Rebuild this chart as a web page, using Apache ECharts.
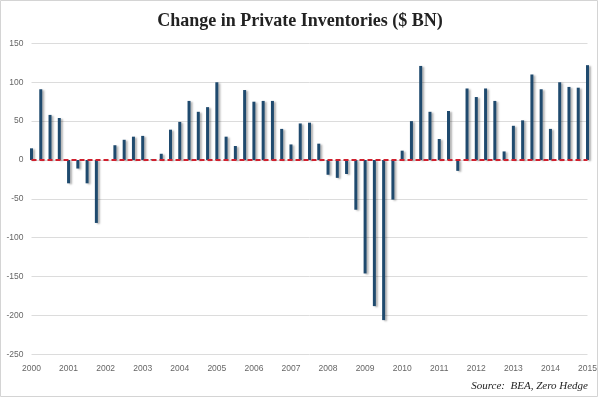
<!DOCTYPE html>
<html>
<head>
<meta charset="utf-8">
<script src="https://cdn.jsdelivr.net/npm/echarts@6/dist/echarts.min.js"></script>
<style>
  html, body { margin: 0; padding: 0; background: #fff; }
  #chart { width: 600px; height: 398px; }
</style>
</head>
<body>
<div id="chart"></div>
<script>
// quarterly change in private inventories, $ BN, 2000Q1 .. 2015Q1
const years = ['2000', '2001', '2002', '2003', '2004', '2005', '2006', '2007',
               '2008', '2009', '2010', '2011', '2012', '2013', '2014', '2015']
const quarters = ['Q1', 'Q2', 'Q3', 'Q4']
const inventories = [
    15, 91, 58, 54,        // 2000
    -30, -11, -30, -81,    // 2001
    1, 19, 26, 30,         // 2002
    31, 1, 8, 39,          // 2003
    49, 76, 62, 68,        // 2004
    100, 30, 18, 90,       // 2005
    75, 76, 76, 40,        // 2006
    20, 47, 48, 21,        // 2007
    -19, -23, -18, -64,    // 2008
    -146, -188, -206, -51, // 2009
    12, 50, 121, 62,       // 2010
    27, 63, -14, 92,       // 2011
    81, 92, 76, 11,        // 2012
    44, 51, 110, 91,       // 2013
    40, 100, 94, 93,       // 2014
    122                    // 2015
]
const yTicks = { min: -250, max: 150, step: 50 }

let categories = []
years.forEach(y => quarters.forEach(q => categories.push(y + q)))
categories = categories.slice(0, inventories.length)

const myChart = echarts.init(document.getElementById('chart'))
const option = {
    animation: false,
    backgroundColor: '#fff',
    title: {
        text: 'Change in Private Inventories ($ BN)',
        left: 'center',
        top: 7,
        textStyle: {
            fontFamily: 'Liberation Serif',
            fontWeight: 'bold',
            fontSize: 18,
            color: '#222'
        }
    },
    grid: {
        left: 31.5,
        right: 12.5,
        top: 43.4,
        bottom: 43.7
    },
    xAxis: {
        type: 'category',
        data: categories,
        boundaryGap: false,
        axisLine: { show: false },
        axisTick: { show: false },
        axisLabel: {
            interval: 3,
            formatter: v => v.slice(0, 4),
            fontFamily: 'Liberation Sans',
            fontSize: 8.5,
            color: '#666',
            margin: 10
        }
    },
    yAxis: {
        type: 'value',
        min: yTicks.min,
        max: yTicks.max,
        interval: yTicks.step,
        axisLine: { show: false },
        axisTick: { show: false },
        axisLabel: {
            fontFamily: 'Liberation Sans',
            fontSize: 8.5,
            color: '#666',
            margin: 8
        },
        splitLine: { lineStyle: { color: '#dcdcdc', width: 1 } }
    },
    series: [
        {
            type: 'bar',
            data: inventories,
            barWidth: 3,
            clip: false,
            itemStyle: {
                color: '#1f4a6e',
                shadowColor: 'rgba(0,0,0,0.3)',
                shadowBlur: 2,
                shadowOffsetX: 2,
                shadowOffsetY: 1
            },
            markLine: {
                silent: true,
                symbol: 'none',
                label: { show: false },
                lineStyle: {
                    color: '#d0202e',
                    type: [5, 3],
                    width: 2
                },
                data: [{ yAxis: 0 }]
            }
        }
    ],
    graphic: [
        {
            type: 'rect',
            shape: { x: 0.5, y: 0.5, width: 597, height: 396 },
            style: { fill: 'none', stroke: '#d4d4d4', lineWidth: 1 },
            silent: true
        },
        {
            type: 'text',
            right: 12,
            top: 381,
            style: {
                text: 'Source:  BEA, Zero Hedge',
                fontFamily: 'Liberation Serif',
                fontStyle: 'italic',
                fontSize: 11,
                fill: '#222'
            }
        }
    ]
}
myChart.setOption(option)
</script>
</body>
</html>
